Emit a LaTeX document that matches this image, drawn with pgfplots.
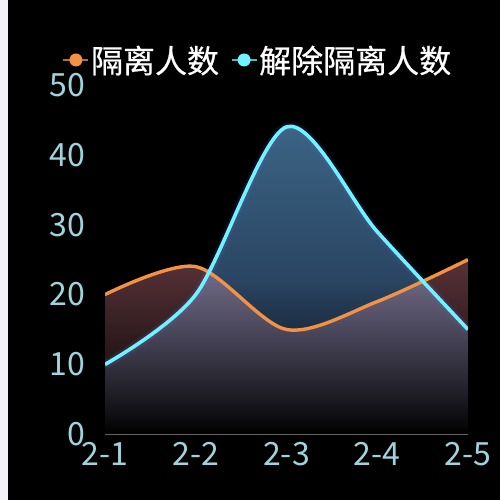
\documentclass[border=0pt]{standalone}
\usepackage{fontspec}
\setmainfont{Noto Sans CJK SC}
\newfontfamily\legfont{Noto Sans CJK SC}[FakeBold=0.6]
\usepackage{pgfplots}
\pgfplotsset{compat=1.18}
\definecolor{orangeL}{HTML}{F39244}
\definecolor{cyanL}{HTML}{6EF3FF}
\definecolor{tickC}{HTML}{A0D4DD}
\definecolor{leftstrip}{HTML}{F2F3F8}
\definecolor{cyanTop}{HTML}{3C6586}
\definecolor{cyanMid}{HTML}{2B4664}
\definecolor{orgTop}{HTML}{573238}
\definecolor{glow}{HTML}{6A6AD8}

% 2-1 ... 2-5
\pgfplotstableread{
x iso cure
0 20 10
1 24 20
2 15 44
3 19 29
4 25 15
}\datatable

\begin{document}
\begin{tikzpicture}[x=1bp,y=1bp]
\fill[leftstrip] (0,0) rectangle (8,500);
\fill[black] (8,0) rectangle (500,500);
\useasboundingbox (0,0) rectangle (500,500);
\begin{axis}[
  at={(105bp,65.7bp)}, anchor=south west,
  scale only axis, width=363bp, height=349.3bp,
  xmin=0, xmax=4, ymin=0, ymax=50,
  axis x line*=bottom, axis y line*=left,
  x axis line style={draw=gray!80, line width=1.5bp, -},
  y axis line style={draw=none},
  major tick length=0pt,
  xtick={0,1,2,3,4},
  xticklabels={2-1,2-2,2-3,2-4,2-5},
  ytick={0,10,20,30,40,50},
  /pgf/number format/assume math mode=true,
  tick label style={font=\fontsize{32bp}{38bp}\selectfont, text=tickC, inner sep=0pt},
  yticklabel style={anchor=east, xshift=-20bp},
  xticklabel style={anchor=north, yshift=-8bp},
  legend style={at={(0.4215,1.0716)}, anchor=center, draw=none, fill=none,
    text=white, font=\legfont\fontsize{32bp}{38bp}\selectfont, inner sep=0pt,
    /tikz/every even column/.append style={column sep=10bp}},
  legend columns=2,
  legend image code/.code={
    \draw[#1, line width=1.2bp, opacity=0.75] (0bp,0bp) -- (25bp,0bp);
    \fill[#1, draw=none] (12.5bp,0bp) circle (6.5bp);
  },
]
% areas
\addplot[draw=none, smooth, top color=cyanTop, bottom color=black, middle color=cyanMid, forget plot]
  table[x=x, y=cure]{\datatable} \closedcycle;
\addplot[draw=none, smooth, top color=orgTop, bottom color=black, blend mode=screen, forget plot]
  table[x=x, y=iso]{\datatable} \closedcycle;
% glow
\addplot[glow, line width=10bp, opacity=0.07, smooth, forget plot] table[x=x, y=cure]{\datatable};
\addplot[glow, line width=7bp, opacity=0.10, smooth, forget plot] table[x=x, y=cure]{\datatable};
% lines
\addplot[orangeL, line width=3.4bp, smooth] table[x=x, y=iso]{\datatable};
\addlegendentry{隔离人数}
\addplot[cyanL, line width=3.6bp, smooth] table[x=x, y=cure]{\datatable};
\addlegendentry{解除隔离人数}
\end{axis}
\end{tikzpicture}
\end{document}
